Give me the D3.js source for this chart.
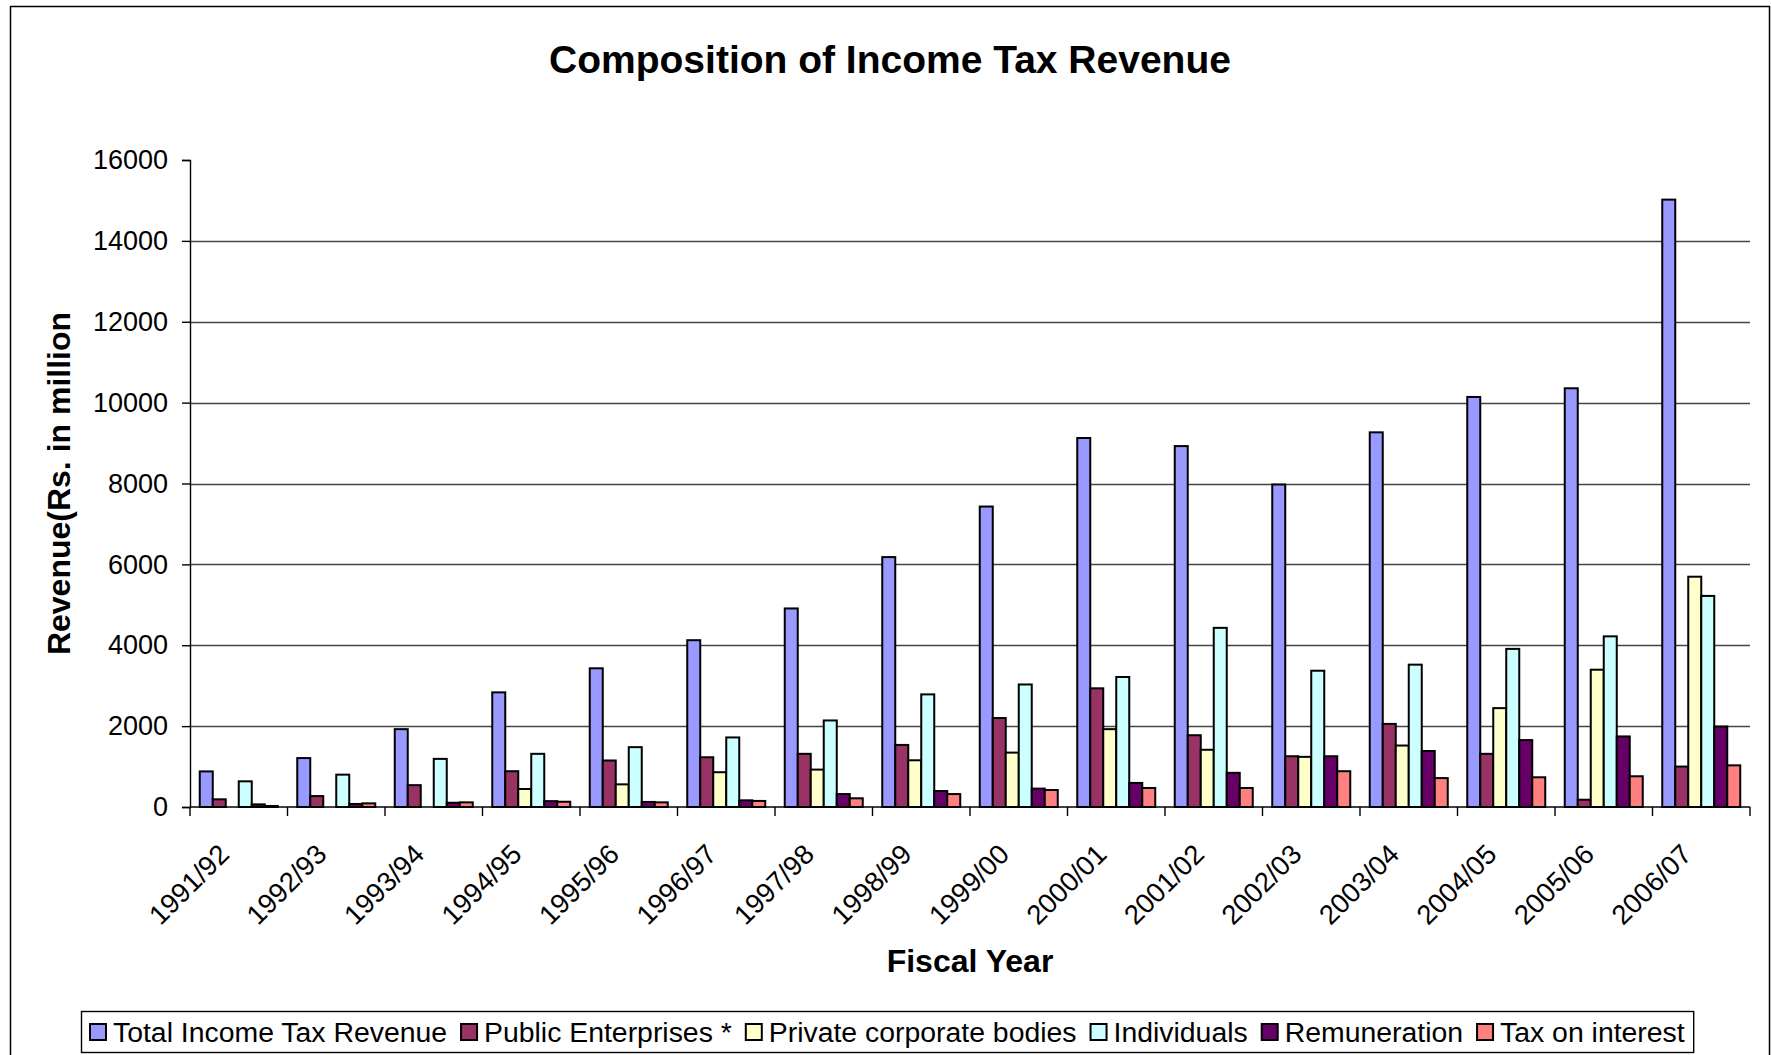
<!DOCTYPE html>
<html>
<head>
<meta charset="utf-8">
<script src="https://cdn.jsdelivr.net/npm/d3@7"></script>
<style>
  html, body { margin: 0; padding: 0; background: #fff; }
  svg { display: block; font-family: "Liberation Sans", Arial, sans-serif; }
</style>
</head>
<body>
<svg id="chart" width="1772" height="1055"></svg>
<script>
// Fiscal years on the category axis
const years = ["1991/92","1992/93","1993/94","1994/95","1995/96","1996/97","1997/98","1998/99",
               "1999/00","2000/01","2001/02","2002/03","2003/04","2004/05","2005/06","2006/07"];

// Revenue by source, Rs. in million
const totalIncomeTax   = [880, 1210, 1925, 2835, 3430, 4125, 4910, 6180, 7430, 9125, 8925, 7975, 9265, 10140, 10355, 15020];
const publicEnterprise = [190, 270, 540, 885, 1150, 1230, 1315, 1535, 2200, 2935, 1775, 1255, 2055, 1315, 180, 1000];
const privateCorporate = [0, 0, 0, 445, 560, 860, 925, 1155, 1345, 1925, 1415, 1240, 1520, 2445, 3395, 5695];
const individuals      = [635, 800, 1190, 1315, 1480, 1720, 2140, 2785, 3030, 3215, 4430, 3370, 3520, 3910, 4220, 5220];
const remuneration     = [65, 75, 105, 145, 125, 165, 320, 395, 455, 595, 845, 1255, 1385, 1655, 1745, 1990];
const taxOnInterest    = [25, 90, 115, 130, 115, 150, 215, 320, 420, 470, 470, 885, 715, 735, 760, 1030];

const seriesNames = ["Total Income Tax Revenue", "Public Enterprises *", "Private corporate bodies",
                     "Individuals", "Remuneration", "Tax on interest"];
const seriesValues = [totalIncomeTax, publicEnterprise, privateCorporate, individuals, remuneration, taxOnInterest];
const seriesColors = ["#9999FF", "#993366", "#FFFFCC", "#CCFFFF", "#660066", "#FF8080"];

const yTicks = [0, 2000, 4000, 6000, 8000, 10000, 12000, 14000, 16000];

const svg = d3.select("#chart");
const font = "'Liberation Sans', Arial, sans-serif";

// Plot area
const plot = { left: 190, right: 1750, top: 160, bottom: 807 };

// Outer chart frame
svg.append("rect")
  .attr("x", 10.5).attr("y", 6.5)
  .attr("width", 1759).attr("height", 1070)
  .attr("fill", "none").attr("stroke", "#000").attr("stroke-width", 1.5);

// Title
svg.append("text")
  .attr("x", 890).attr("y", 73)
  .attr("text-anchor", "middle")
  .attr("font-size", 39).attr("font-weight", "bold")
  .text("Composition of Income Tax Revenue");

const x = d3.scaleBand().domain(years).range([plot.left, plot.right]).paddingInner(0).paddingOuter(0);
// Excel-style gap: 150% of a bar width between groups
const barW = x.bandwidth() / 7.5;
const xs = d3.scaleBand().domain(d3.range(seriesNames.length))
  .range([barW * 0.75, barW * 0.75 + barW * 6]).padding(0);

const y = d3.scaleLinear().domain([0, 16000]).range([plot.bottom, plot.top]);

// Horizontal gridlines (none at the top of the scale)
svg.append("g")
  .selectAll("line")
  .data(yTicks.filter(t => t > 0 && t < 16000))
  .join("line")
  .attr("x1", plot.left).attr("x2", plot.right)
  .attr("y1", d => Math.round(y(d)) + 0.5).attr("y2", d => Math.round(y(d)) + 0.5)
  .attr("stroke", "#444").attr("stroke-width", 1.4);

// Y axis
const yAxis = svg.append("g")
  .attr("transform", `translate(${plot.left},0)`)
  .call(d3.axisLeft(y).tickValues(yTicks).tickSize(8).tickPadding(14).tickFormat(d3.format("d")));
yAxis.select(".domain").attr("stroke", "#000").attr("stroke-width", 1.4);
yAxis.selectAll(".tick line").attr("stroke", "#000").attr("stroke-width", 1.4);
yAxis.selectAll(".tick text").attr("font-family", font).attr("font-size", 27).attr("fill", "#000");

// Bars
const groups = svg.append("g")
  .selectAll("g")
  .data(years)
  .join("g")
  .attr("transform", d => `translate(${x(d)},0)`);

groups.selectAll("rect")
  .data((d, i) => seriesValues.map((vals, s) => ({ s, v: vals[i] })))
  .join("rect")
  .attr("x", d => xs(d.s))
  .attr("y", d => y(d.v))
  .attr("width", xs.bandwidth())
  .attr("height", d => plot.bottom - y(d.v))
  .attr("fill", d => seriesColors[d.s])
  .attr("stroke", "#000")
  .attr("stroke-width", 2);

// X axis with category ticks at band edges
const xAxisG = svg.append("g").attr("transform", `translate(0,${plot.bottom})`);
xAxisG.append("line")
  .attr("x1", plot.left).attr("x2", plot.right)
  .attr("y1", 0).attr("y2", 0)
  .attr("stroke", "#000").attr("stroke-width", 1.4);
const edges = years.map(d => x(d)).concat([plot.right]);
xAxisG.selectAll("line.edge")
  .data(edges)
  .join("line")
  .attr("class", "edge")
  .attr("x1", d => d).attr("x2", d => d)
  .attr("y1", 0).attr("y2", 9)
  .attr("stroke", "#000").attr("stroke-width", 1.4);
xAxisG.selectAll("text")
  .data(years)
  .join("text")
  .attr("transform", d => `translate(${x(d) + x.bandwidth() / 2 - 8},${49}) rotate(-45)`)
  .attr("text-anchor", "end")
  .attr("font-size", 27.5)
  .text(d => d);

// Axis titles
svg.append("text")
  .attr("x", (plot.left + plot.right) / 2).attr("y", 972)
  .attr("text-anchor", "middle")
  .attr("font-size", 32).attr("font-weight", "bold")
  .text("Fiscal Year");

svg.append("text")
  .attr("transform", `translate(70,${(plot.top + plot.bottom) / 2}) rotate(-90)`)
  .attr("text-anchor", "middle")
  .attr("font-size", 32).attr("font-weight", "bold")
  .text("Revenue(Rs. in million");

// Legend
const legend = svg.append("g");
const legendBox = legend.append("rect")
  .attr("fill", "#fff").attr("stroke", "#000").attr("stroke-width", 1.4);
let lx = 90;
const ly = 1032;
const itemGap = 14;
seriesNames.forEach((name, i) => {
  legend.append("rect")
    .attr("x", lx).attr("y", ly - 8)
    .attr("width", 16).attr("height", 16)
    .attr("fill", seriesColors[i]).attr("stroke", "#000").attr("stroke-width", 2);
  const t = legend.append("text")
    .attr("x", lx + 23).attr("y", ly + 10)
    .attr("font-size", 28.4)
    .text(name);
  lx += 23 + t.node().getComputedTextLength() + itemGap;
});
legendBox
  .attr("x", 81.5).attr("y", 1011.5)
  .attr("width", lx - itemGap + 9 - 81.5).attr("height", 41);
</script>
</body>
</html>
